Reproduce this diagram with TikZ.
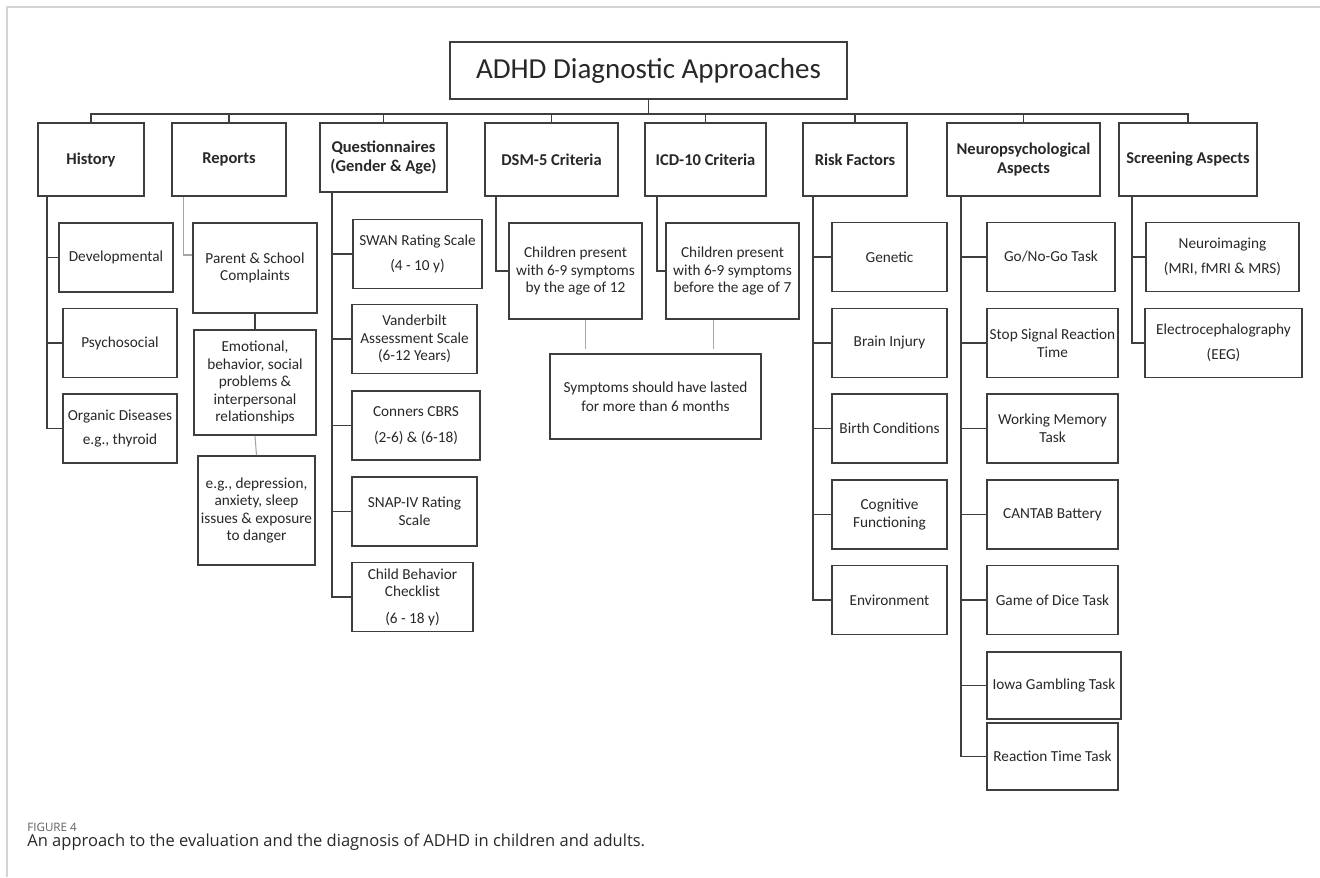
\documentclass[tikz,border=0pt]{standalone}
\usepackage{fontspec}
\setmainfont{Carlito}
\newfontfamily\capfont{Open Sans}
\usetikzlibrary{positioning}
\definecolor{edge}{RGB}{62,62,62}
\definecolor{faintedge}{RGB}{165,165,165}
\definecolor{framegray}{RGB}{212,212,212}
\definecolor{inkgray}{RGB}{40,40,40}
\definecolor{capgray}{RGB}{95,95,95}

\begin{document}
\begin{tikzpicture}[
  x=0.02cm, y=-0.02cm,
  box/.style={draw=edge, line width=1pt, fill=white, align=center, inner sep=1pt,
              font=\fontsize{8.7}{10}\selectfont, text=inkgray},
  head/.style={box, font=\fontsize{9.4}{11}\selectfont\bfseries, minimum height=1.46cm},
  leaf/.style={box, minimum height=1.38cm},
  link/.style={draw=edge, line width=1pt},
  faint/.style={draw=faintedge, line width=0.6pt}
]
  \useasboundingbox (0,0) rectangle (1320,877);
  \draw[framegray, line width=0.6pt] (7,877) -- (7,7) -- (1320,7);

  % root
  \node[box, minimum width=7.94cm, minimum height=1.14cm,
        font=\fontsize{16.5}{19}\selectfont] (title) at (648.5,70.5) {ADHD Diagnostic Approaches};
  \coordinate (bus) at (0,114);

  % first level
  \node[head, minimum width=2.12cm] (hist)  at (91,159.5)   {History};
  \node[head, minimum width=2.28cm] (rep)   at (229,159.5)  {Reports};
  \node[head, minimum width=2.54cm, minimum height=1.38cm] (quest) at (383.5,157.5) {Questionnaires\\(Gender \& Age)};
  \node[head, minimum width=2.66cm] (dsm)   at (551.5,159.5) {DSM-5 Criteria};
  \node[head, minimum width=2.42cm] (icd)   at (705.5,159.5) {ICD-10 Criteria};
  \node[head, minimum width=2.08cm] (risk)  at (855,159.5)  {Risk Factors};
  \node[head, minimum width=3.06cm] (neuro) at (1023.5,159.5) {Neuropsychological\\Aspects};
  \node[head, minimum width=2.76cm] (scr)   at (1188,159.5) {Screening Aspects};

  \foreach \n in {hist,rep,quest,dsm,icd,risk,neuro,scr}
    \draw[link] (title.south) |- (bus -| \n.north) -- (\n.north);

  % history
  \node[leaf, minimum width=2.28cm] (dev) at (116,257.5) {Developmental};
  \node[leaf, minimum width=2.28cm] (psy) at (120,343)   {Psychosocial};
  \node[leaf, minimum width=2.28cm] (org) at (120,428.5) {Organic Diseases\\[4pt]e.g., thyroid};
  \foreach \n in {dev,psy,org}
    \draw[link] ([xshift=0.2cm]hist.south west) |- (\n.west);

  % reports
  \node[box, minimum width=2.48cm, minimum height=1.8cm] (par) at (255,268) {Parent \& School\\Complaints};
  \node[box, minimum width=2.44cm, minimum height=2.1cm] (emo) at (255,382.5)
    {Emotional,\\behavior, social\\problems \&\\interpersonal\\relationships};
  \node[box, minimum width=2.34cm, minimum height=2.18cm] (dep) at (256.5,510.5)
    {e.g., depression,\\anxiety, sleep\\issues \& exposure\\to danger};
  \draw[faint] ([xshift=0.24cm]rep.south west) |- ([yshift=0.26cm]par.west);
  \draw[link] (par.south) -- (emo.north);
  \draw[faint] (emo.south) -- (dep.north);

  % questionnaires
  \node[leaf, minimum width=2.58cm] (swan) at (417.5,254)   {SWAN Rating Scale\\[4pt](4 - 10 y)};
  \node[leaf, minimum width=2.5cm]  (vand) at (414.5,339)   {Vanderbilt\\Assessment Scale\\(6-12 Years)};
  \node[leaf, minimum width=2.56cm] (conn) at (416,425.5)   {Conners CBRS\\[5pt](2-6) \& (6-18)};
  \node[leaf, minimum width=2.5cm]  (snap) at (414.5,511.5) {SNAP-IV Rating\\Scale};
  \node[leaf, minimum width=2.42cm] (cbcl) at (412.5,597)   {Child Behavior\\Checklist\\[5pt](6 - 18 y)};
  \foreach \n in {swan,vand,conn,snap,cbcl}
    \draw[link] ([xshift=0.26cm]quest.south west) |- (\n.west);

  % criteria
  \node[box, minimum width=2.66cm, minimum height=1.92cm] (dsmc) at (575.5,271)
    {Children present\\with 6-9 symptoms\\by the age of 12};
  \node[box, minimum width=2.66cm, minimum height=1.92cm] (icdc) at (732.5,271)
    {Children present\\with 6-9 symptoms\\before the age of 7};
  \node[box, minimum width=4.22cm, minimum height=1.7cm] (sym) at (655.5,396.5)
    {Symptoms should have lasted\\[1pt]for more than 6 months};
  \draw[link] ([xshift=0.24cm]dsm.south west) |- (dsmc.west);
  \draw[link] ([xshift=0.26cm]icd.south west) |- (icdc.west);
  \draw[faint] ([xshift=0.2cm]dsmc.south) -- ([xshift=0.2cm,yshift=0.08cm]dsmc.south |- sym.north);
  \draw[faint] ([xshift=-0.38cm]icdc.south) -- ([xshift=-0.38cm,yshift=0.08cm]icdc.south |- sym.north);

  % risk factors
  \node[leaf, minimum width=2.3cm] (gen)   at (889.5,257)   {Genetic};
  \node[leaf, minimum width=2.3cm] (brain) at (889.5,343)   {Brain Injury};
  \node[leaf, minimum width=2.3cm] (birth) at (889.5,428.5) {Birth Conditions};
  \node[leaf, minimum width=2.3cm] (cogn)  at (889.5,514.5) {Cognitive\\Functioning};
  \node[leaf, minimum width=2.3cm] (env)   at (889.5,600)   {Environment};
  \foreach \n in {gen,brain,birth,cogn,env}
    \draw[link] ([xshift=0.22cm]risk.south west) |- (\n.west);

  % neuropsychological aspects
  \node[leaf, minimum width=2.56cm] (gonogo) at (1051,257)    {Go/No-Go Task};
  \node[leaf, minimum width=2.62cm] (stop)   at (1052.5,343)  {Stop Signal Reaction\\Time};
  \node[leaf, minimum width=2.62cm] (wm)     at (1052.5,428.5) {Working Memory\\Task};
  \node[leaf, minimum width=2.62cm] (cant)   at (1052.5,514.5) {CANTAB Battery};
  \node[leaf, minimum width=2.62cm] (dice)   at (1052.5,600)  {Game of Dice Task};
  \node[leaf, minimum width=2.68cm, minimum height=1.34cm] (iowa) at (1054,685.5) {Iowa Gambling Task};
  \node[leaf, minimum width=2.62cm, minimum height=1.34cm] (rtt)  at (1052.5,756.5) {Reaction Time Task};
  \foreach \n in {gonogo,stop,wm,cant,dice,iowa,rtt}
    \draw[link] ([xshift=0.3cm]neuro.south west) |- (\n.west);

  % screening aspects
  \node[leaf, minimum width=3.06cm] (nimg) at (1222.5,257) {Neuroimaging\\[4pt](MRI, fMRI \& MRS)};
  \node[leaf, minimum width=3.14cm] (eeg)  at (1223.5,343) {Electrocephalography\\[4pt](EEG)};
  \foreach \n in {nimg,eeg}
    \draw[link] ([xshift=0.28cm]scr.south west) |- (\n.west);

  % caption
  \node[anchor=west, inner sep=0pt, text=capgray,
        font=\capfont\fontsize{6.6}{8}\selectfont] (fig) at (27,827) {FIGURE 4};
  \node[anchor=west, inner sep=0pt, text=inkgray,
        font=\capfont\fontsize{9.4}{11}\selectfont] (cap) at (27,842)
    {An approach to the evaluation and the diagnosis of ADHD in children and adults.};
\end{tikzpicture}
\end{document}
